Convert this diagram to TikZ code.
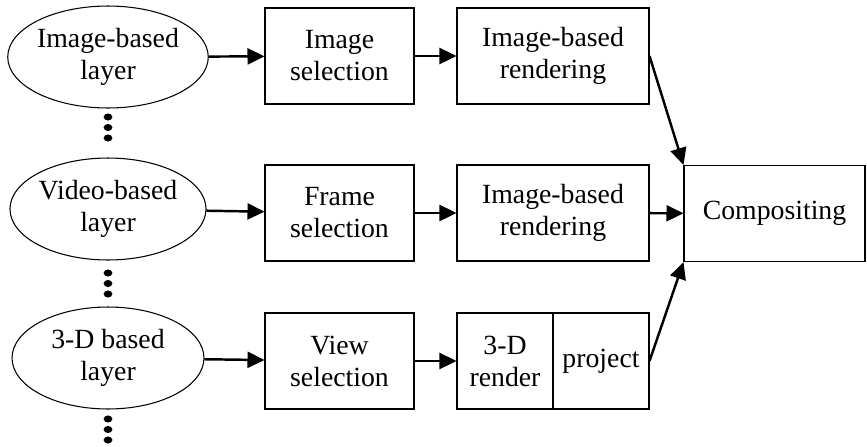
\documentclass[tikz,border=0pt]{standalone}
\usepackage{fontspec}
\setmainfont{LiberationSerif}[Extension=.ttf,UprightFont=*-Regular]
\usetikzlibrary{shapes.geometric,arrows.meta}

\begin{document}
\begin{tikzpicture}[x=0.02cm,y=-0.02cm,
  every node/.style={font=\fontsize{15.8}{18.2}\selectfont,align=center,inner sep=0pt},
  lay/.style={draw,ellipse,line width=0.6pt,minimum width=3.84cm,minimum height=2.04cm},
  blk/.style={draw,rectangle,line width=0.6pt,minimum height=1.92cm},
  arr/.style={line width=1.4pt,-{Triangle[length=0.34cm,width=0.32cm]}}]
  \useasboundingbox (0,0) rectangle (867,447);
  \node[lay] (layA) at (108,57) {Image-based\\layer};
  \node[lay] (layB) at (108,209) {Video-based\\layer};
  \node[lay] (layC) at (108,358) {3-D based\\layer};
  \node[blk,minimum width=2.98cm] (selA) at (339.5,56) {Image\\selection};
  \node[blk,minimum width=2.98cm] (selB) at (339.5,213) {Frame\\selection};
  \node[blk,minimum width=2.98cm] (selC) at (339.5,361) {View\\selection};
  \node[blk,minimum width=3.84cm] (renA) at (553,56) {Image-based\\rendering};
  \node[blk,minimum width=3.84cm] (renB) at (553,213) {Image-based\\rendering};
  \node[blk,minimum width=1.92cm] (rend) at (505,361) {3-D\\render};
  \node[blk,minimum width=1.92cm] (proj) at (601,361) {project};
  \node[blk,minimum width=3.62cm] (comp) at (774.5,213.5) {Compositing};
  \foreach \y in {117,273,419}
    \foreach \d in {0,10.5,21}
      \fill (108,\y+\d) ellipse [x radius=2.5pt,y radius=2pt];
  \draw[arr] (layA) -- (selA);
  \draw[arr] (layB) -- (selB);
  \draw[arr] (layC) -- (selC);
  \draw[arr] (selA) -- (renA);
  \draw[arr] (selB) -- (renB);
  \draw[arr] (selC) -- (rend);
  \draw[arr] (renA.east) -- (comp.north west);
  \draw[arr] (renB) -- (comp);
  \draw[arr] (proj.east) -- (comp.south west);
\end{tikzpicture}
\end{document}
